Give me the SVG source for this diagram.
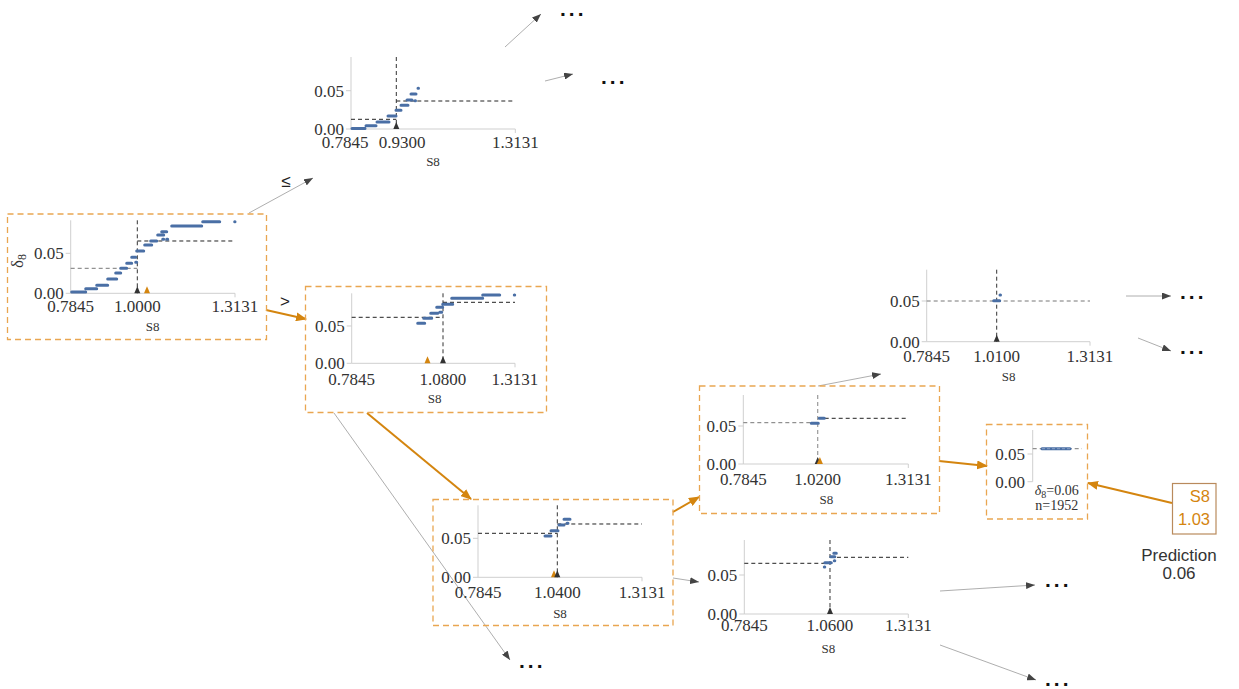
<svg xmlns="http://www.w3.org/2000/svg" width="1239" height="689" viewBox="0 0 1239 689">
  <style>
    .tick { font-family: "Liberation Serif", serif; font-size: 17px; fill: #333; }
    .ylab { text-anchor: end; }
    .xlab { text-anchor: middle; }
    .feat { font-family: "Liberation Serif", serif; font-size: 13px; fill: #333; text-anchor: middle; }
    .axis { stroke: #cfcfcf; stroke-width: 1; fill: none; }
    .mean { stroke: #222; stroke-width: 1; stroke-dasharray: 4 3; fill: none; }
    .mean-g { stroke: #777; stroke-width: 1; stroke-dasharray: 4 3; fill: none; }
    .split { stroke: #333; stroke-width: 1; stroke-dasharray: 4 3; fill: none; }
    .split-g { stroke: #999; stroke-width: 1.2; stroke-dasharray: 4 3; fill: none; }
    .pts { stroke: #4a6fa5; stroke-width: 3; stroke-linecap: round; fill: none; }
    .frame { fill: none; stroke: #e9a651; stroke-width: 1.3; stroke-dasharray: 6 4; }
    .tri-k { fill: #333; }
    .tri-o { fill: #d4850f; }
    .edge { stroke: #999; stroke-width: 0.8; fill: none; marker-end: url(#head-g); }
    .edge-o { stroke: #d4850f; stroke-width: 2; fill: none; marker-end: url(#head-o); }
    .lbl { font-family: "Liberation Sans", sans-serif; font-size: 17px; fill: #222; text-anchor: middle; }
    .more { font-family: "Liberation Sans", sans-serif; font-size: 21px; font-weight: bold; fill: #111; letter-spacing: 3px; }
    .pred { font-family: "Liberation Sans", sans-serif; font-size: 17px; fill: #333; text-anchor: middle; }
    .inst { font-family: "Liberation Sans", sans-serif; font-size: 16.5px; fill: #d4850f; text-anchor: end; }
  </style>
  <defs>
    <marker id="head-g" markerUnits="userSpaceOnUse" markerWidth="9" markerHeight="7" refX="9" refY="3.5" orient="auto">
      <path d="M0,0 L9,3.5 L0,7 z" fill="#444"/>
    </marker>
    <marker id="head-o" markerUnits="userSpaceOnUse" markerWidth="11" markerHeight="9" refX="10" refY="4.5" orient="auto">
      <path d="M0,0 L11,4.5 L0,9 z" fill="#d4850f"/>
    </marker>
    <path id="tri" d="M-3,0 L3,0 L0,-7 z"/>
  </defs>

  <rect width="1239" height="689" fill="#ffffff"/>

  <!-- connectors -->
  <g id="connectors">
    <line class="edge" x1="249" y1="213" x2="313" y2="178"/>
    <text class="lbl" x="286" y="187">≤</text>
    <line class="edge-o" x1="266" y1="310" x2="306" y2="319"/>
    <text class="lbl" x="285" y="307">&gt;</text>

    <line class="edge" x1="505" y1="47" x2="541" y2="14"/>
    <line class="edge" x1="545" y1="81" x2="573" y2="74"/>

    <line class="edge-o" x1="367" y1="413" x2="471" y2="499"/>
    <line class="edge" x1="334" y1="413" x2="510" y2="660"/>

    <line class="edge-o" x1="673" y1="512" x2="699" y2="497"/>
    <line class="edge" x1="673" y1="578" x2="699" y2="582"/>

    <line class="edge" x1="818" y1="386" x2="881" y2="374"/>
    <line class="edge-o" x1="939" y1="461" x2="987" y2="466"/>

    <line class="edge" x1="1126" y1="296" x2="1171" y2="296"/>
    <line class="edge" x1="1138" y1="338" x2="1171" y2="351"/>

    <line class="edge" x1="940" y1="591" x2="1035" y2="585"/>
    <line class="edge" x1="940" y1="645" x2="1036" y2="680"/>

    <line class="edge-o" x1="1172" y1="503" x2="1088" y2="483"/>

    <text class="more" x="560" y="16">...</text>
    <text class="more" x="601" y="84">...</text>
    <text class="more" x="1180" y="299">...</text>
    <text class="more" x="1180" y="354">...</text>
    <text class="more" x="519" y="668">...</text>
    <text class="more" x="1045" y="587">...</text>
    <text class="more" x="1045" y="686">...</text>
  </g>

  <!-- root split: S8 at 1.0000 -->
  <g id="node-root">
    <rect class="frame" x="7.5" y="214" width="259" height="125.5"/>
    <g transform="translate(70.7,293.3)">
      <line class="axis" x1="0" y1="-73" x2="0" y2="0"/>
      <line class="axis" x1="0" y1="0" x2="164.3" y2="0"/>
      <line class="axis" x1="-5" y1="0" x2="0" y2="0"/>
      <line class="axis" x1="-5" y1="-40" x2="0" y2="-40"/>
      <line class="axis" x1="164.3" y1="0" x2="164.3" y2="4"/>
      <line class="mean-g" x1="0" y1="-25" x2="66.6" y2="-25"/>
      <line class="mean" x1="66.6" y1="-52.3" x2="164.3" y2="-52.3"/>
      <line class="split" x1="66.6" y1="-73" x2="66.6" y2="0"/>
      <path class="pts" d="M1,-1.3H15 M15,-4.6H26 M26,-8H37 M37,-14.3H46 M45,-20.3H50 M50,-25H56 M56,-30H61 M61,-36H65 M65,-31H66 M66,-42.3H73 M74,-48.3H81 M80,-52.3H86 M87,-58.3H93 M91,-61.6H96 M92,-54H93 M96,-54H97 M101,-67.3H131 M132,-71.6H149 M164,-71.6H164.3"/>
      <use href="#tri" class="tri-k" x="66.6" y="0"/>
      <use href="#tri" class="tri-o" x="76.3" y="0"/>
      <text class="tick ylab" x="-7" y="-34">0.05</text>
      <text class="tick ylab" x="-7" y="6">0.00</text>
      <text class="tick xlab" x="0" y="18.5">0.7845</text>
      <text class="tick xlab" x="66.6" y="18.5">1.0000</text>
      <text class="tick xlab" x="164.3" y="18.5">1.3131</text>
      <text class="feat" x="82" y="37.5">S8</text>
    </g>
    <text font-family="Liberation Serif, serif" font-size="17" fill="#333" transform="translate(23,268) rotate(-90)">δ<tspan font-size="12" dy="3">8</tspan></text>
  </g>

  <!-- left child: S8 at 0.9300 -->
  <g id="node-left">
    <g transform="translate(351,129)">
      <line class="axis" x1="0" y1="-72" x2="0" y2="0"/>
      <line class="axis" x1="0" y1="0" x2="164.3" y2="0"/>
      <line class="axis" x1="-5" y1="0" x2="0" y2="0"/>
      <line class="axis" x1="-5" y1="-38.3" x2="0" y2="-38.3"/>
      <line class="axis" x1="164.3" y1="0" x2="164.3" y2="4"/>
      <line class="mean" x1="0" y1="-9.7" x2="45.3" y2="-9.7"/>
      <line class="mean" x1="45.3" y1="-28" x2="164.3" y2="-28"/>
      <line class="split" x1="45.3" y1="-72" x2="45.3" y2="0"/>
      <path class="pts" d="M1,-0.5H14 M15,-3.3H25 M26,-7H38 M37,-13H45 M45,-18.7H50 M50,-23.7H57 M56,-29H61 M60,-35H65 M64,-28.3H64.5 M67,-40.7H67.5"/>
      <use href="#tri" class="tri-k" x="45.3" y="0"/>
      <text class="tick ylab" x="-7" y="-32.3">0.05</text>
      <text class="tick ylab" x="-7" y="6">0.00</text>
      <text class="tick xlab" x="-6" y="19">0.7845</text>
      <text class="tick xlab" x="51" y="19">0.9300</text>
      <text class="tick xlab" x="164.3" y="19">1.3131</text>
      <text class="feat" x="82" y="37">S8</text>
    </g>
  </g>

  <!-- right child: S8 at 1.0800 -->
  <g id="node-right">
    <rect class="frame" x="305.5" y="286.5" width="241" height="126"/>
    <g transform="translate(351.7,363.3)">
      <line class="axis" x1="0" y1="-70" x2="0" y2="0"/>
      <line class="axis" x1="0" y1="0" x2="163.3" y2="0"/>
      <line class="axis" x1="-5" y1="0" x2="0" y2="0"/>
      <line class="axis" x1="-5" y1="-37.3" x2="0" y2="-37.3"/>
      <line class="axis" x1="163.3" y1="0" x2="163.3" y2="4"/>
      <line class="mean" x1="0" y1="-46" x2="91.3" y2="-46"/>
      <line class="mean" x1="91.3" y1="-61" x2="163.3" y2="-61"/>
      <line class="split" x1="91.3" y1="-70" x2="91.3" y2="0"/>
      <path class="pts" d="M66,-40H73 M72,-45H80 M79,-50H86 M88,-51H90 M85,-56H91 M91,-59H101 M100,-65H131 M131,-68.3H148 M162.6,-68.3H163"/>
      <use href="#tri" class="tri-o" x="75.8" y="0"/>
      <use href="#tri" class="tri-k" x="91.3" y="0"/>
      <text class="tick ylab" x="-7" y="-31.3">0.05</text>
      <text class="tick ylab" x="-7" y="6">0.00</text>
      <text class="tick xlab" x="0" y="21.5">0.7845</text>
      <text class="tick xlab" x="91.3" y="21.5">1.0800</text>
      <text class="tick xlab" x="163.3" y="21.5">1.3131</text>
      <text class="feat" x="83" y="40">S8</text>
    </g>
  </g>

  <!-- S8 at 1.0400 -->
  <g id="node-104">
    <rect class="frame" x="433" y="499.5" width="240" height="126"/>
    <g transform="translate(478,577.3)">
      <line class="axis" x1="0" y1="-72" x2="0" y2="0"/>
      <line class="axis" x1="0" y1="0" x2="164" y2="0"/>
      <line class="axis" x1="-5" y1="0" x2="0" y2="0"/>
      <line class="axis" x1="-5" y1="-39" x2="0" y2="-39"/>
      <line class="axis" x1="164" y1="0" x2="164" y2="4"/>
      <line class="mean" x1="0" y1="-44" x2="79.3" y2="-44"/>
      <line class="mean" x1="79.3" y1="-53.3" x2="164" y2="-53.3"/>
      <line class="split" x1="79.3" y1="-72" x2="79.3" y2="0"/>
      <path class="pts" d="M67,-41.3H73 M73,-46.6H80 M81,-52.3H86 M86,-58H92 M89,-54H90"/>
      <use href="#tri" class="tri-o" x="76" y="0"/>
      <use href="#tri" class="tri-k" x="79.3" y="0"/>
      <text class="tick ylab" x="-7" y="-33">0.05</text>
      <text class="tick ylab" x="-7" y="6">0.00</text>
      <text class="tick xlab" x="0" y="21">0.7845</text>
      <text class="tick xlab" x="79.3" y="21">1.0400</text>
      <text class="tick xlab" x="164" y="21">1.3131</text>
      <text class="feat" x="82" y="41">S8</text>
    </g>
  </g>

  <!-- S8 at 1.0200 -->
  <g id="node-102">
    <rect class="frame" x="699.5" y="386" width="240" height="127.5"/>
    <g transform="translate(743.3,464)">
      <line class="axis" x1="0" y1="-69" x2="0" y2="0"/>
      <line class="axis" x1="0" y1="0" x2="165" y2="0"/>
      <line class="axis" x1="-5" y1="0" x2="0" y2="0"/>
      <line class="axis" x1="-5" y1="-38" x2="0" y2="-38"/>
      <line class="axis" x1="165" y1="0" x2="165" y2="4"/>
      <line class="mean-g" x1="0" y1="-41.3" x2="74.4" y2="-41.3"/>
      <line class="mean" x1="74.4" y1="-45.7" x2="165" y2="-45.7"/>
      <line class="split-g" x1="74.4" y1="-69" x2="74.4" y2="0"/>
      <path class="pts" d="M68,-40.7H75 M76,-45.7H81"/>
      <use href="#tri" class="tri-k" x="74.4" y="0"/>
      <use href="#tri" class="tri-o" x="76.6" y="0"/>
      <text class="tick ylab" x="-7" y="-32">0.05</text>
      <text class="tick ylab" x="-7" y="6">0.00</text>
      <text class="tick xlab" x="0" y="21">0.7845</text>
      <text class="tick xlab" x="74.4" y="21">1.0200</text>
      <text class="tick xlab" x="165" y="21">1.3131</text>
      <text class="feat" x="83" y="39.5">S8</text>
    </g>
  </g>

  <!-- S8 at 1.0100 -->
  <g id="node-101">
    <g transform="translate(926.7,341.7)">
      <line class="axis" x1="0" y1="-72" x2="0" y2="0"/>
      <line class="axis" x1="0" y1="0" x2="163.3" y2="0"/>
      <line class="axis" x1="-5" y1="0" x2="0" y2="0"/>
      <line class="axis" x1="-5" y1="-40.7" x2="0" y2="-40.7"/>
      <line class="axis" x1="163.3" y1="0" x2="163.3" y2="4"/>
      <line class="mean-g" x1="0" y1="-40.7" x2="163.3" y2="-40.7"/>
      <line class="split" x1="70" y1="-72" x2="70" y2="0"/>
      <path class="pts" d="M67,-41H73 M73.3,-46.7H73.8"/>
      <use href="#tri" class="tri-k" x="70" y="0"/>
      <text class="tick ylab" x="-7" y="-34.7">0.05</text>
      <text class="tick ylab" x="-7" y="6">0.00</text>
      <text class="tick xlab" x="0" y="20.5">0.7845</text>
      <text class="tick xlab" x="70" y="20.5">1.0100</text>
      <text class="tick xlab" x="163.3" y="20.5">1.3131</text>
      <text class="feat" x="82" y="39.5">S8</text>
    </g>
  </g>

  <!-- S8 at 1.0600 -->
  <g id="node-106">
    <g transform="translate(744.3,614)">
      <line class="axis" x1="0" y1="-74" x2="0" y2="0"/>
      <line class="axis" x1="0" y1="0" x2="164" y2="0"/>
      <line class="axis" x1="-5" y1="0" x2="0" y2="0"/>
      <line class="axis" x1="-5" y1="-39" x2="0" y2="-39"/>
      <line class="axis" x1="164" y1="0" x2="164" y2="4"/>
      <line class="mean" x1="0" y1="-50.7" x2="85.7" y2="-50.7"/>
      <line class="mean" x1="85.7" y1="-56.7" x2="164" y2="-56.7"/>
      <line class="split" x1="85.7" y1="-74" x2="85.7" y2="0"/>
      <path class="pts" d="M80,-47H80.5 M80.5,-51.3H87 M86.5,-57.3H90.5 M89.5,-60.7H92 M90,-53.3H90.5"/>
      <use href="#tri" class="tri-k" x="85.7" y="0"/>
      <text class="tick ylab" x="-7" y="-33">0.05</text>
      <text class="tick ylab" x="-7" y="6">0.00</text>
      <text class="tick xlab" x="0" y="17">0.7845</text>
      <text class="tick xlab" x="85.7" y="17">1.0600</text>
      <text class="tick xlab" x="164" y="17">1.3131</text>
      <text class="feat" x="84" y="39">S8</text>
    </g>
  </g>

  <!-- leaf reached by the instance -->
  <g id="node-leaf">
    <rect class="frame" x="986.5" y="424.5" width="101" height="94.5"/>
    <line class="axis" x1="1032.7" y1="430" x2="1032.7" y2="481.7"/>
    <line class="axis" x1="1027.5" y1="454" x2="1032.7" y2="454"/>
    <line class="axis" x1="1027.5" y1="481.7" x2="1032.7" y2="481.7"/>
    <line class="mean-g" x1="1032.7" y1="448.7" x2="1082" y2="448.7"/>
    <path class="pts" d="M1042,448.7H1070"/>
    <line stroke="#8aa0c4" stroke-width="1" stroke-dasharray="3 2" x1="1042" y1="448.7" x2="1070" y2="448.7"/>
    <text class="tick ylab" x="1025" y="460">0.05</text>
    <text class="tick ylab" x="1025" y="487.7">0.00</text>
    <text font-family="Liberation Serif, serif" font-size="14" fill="#333" text-anchor="middle" x="1056.7" y="495"><tspan font-style="italic">δ</tspan><tspan font-size="10" dy="3">8</tspan><tspan dy="-3">=0.06</tspan></text>
    <text font-family="Liberation Serif, serif" font-size="14" fill="#333" text-anchor="middle" x="1056.7" y="510">n=1952</text>
  </g>

  <!-- instance being explained -->
  <g id="instance">
    <rect x="1172.5" y="483.5" width="43.5" height="50.5" fill="#fff" stroke="#b98a5c" stroke-width="1.2"/>
    <text class="inst" x="1210" y="502">S8</text>
    <text class="inst" x="1210" y="525">1.03</text>
    <text class="pred" x="1179" y="561">Prediction</text>
    <text class="pred" x="1179" y="579">0.06</text>
  </g>
</svg>
